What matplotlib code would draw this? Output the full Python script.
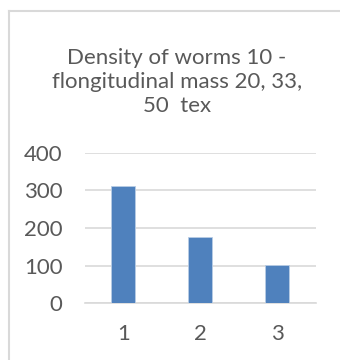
import matplotlib.pyplot as plt
from matplotlib.lines import Line2D

categories = ["1", "2", "3"]
values = [312, 175, 101]
yticks = [0, 100, 200, 300, 400]
title = "Density of worms 10 -\nflongitudinal mass 20, 33,\n50  tex"

text_color = "#595959"
bar_color = "#4f81bd"
grid_color = "#d9d9d9"

plt.rcParams["font.family"] = ["Lato", "DejaVu Sans"]

fig = plt.figure(figsize=(3.4, 3.6), dpi=100)
W, H = 340, 360

# chart frame (runs off the right and bottom edges)
fig.add_artist(Line2D([9 / W, 9 / W], [1 - 11 / H, 0], color=grid_color, lw=1.5))
fig.add_artist(Line2D([9 / W, 1], [1 - 11 / H, 1 - 11 / H], color=grid_color, lw=1.5))

fig.text(177 / W, 1 - 82 / H, title, ha="center", va="center",
         fontsize=16, color=text_color, linespacing=1.22)

ax = fig.add_axes([84.7 / W, 56.7 / H, 231 / W, 150.6 / H])
x = range(1, len(categories) + 1)
ax.bar(x, values, width=0.31, color=bar_color, edgecolor="#b9cde5",
       linewidth=0.6, zorder=3)

ax.set_xlim(0.5, 3.5)
ax.set_ylim(0, 400)
ax.set_yticks(yticks)
ax.set_xticks(list(x))
ax.set_xticklabels(categories)
ax.grid(axis="y", color=grid_color, lw=1.2, zorder=0)
ax.set_axisbelow(True)
for side in ["top", "right", "left"]:
    ax.spines[side].set_visible(False)
ax.spines["bottom"].set_color(grid_color)
ax.spines["bottom"].set_linewidth(1.2)
ax.tick_params(length=0, labelsize=16, colors=text_color)
ax.tick_params(axis="y", pad=16)
ax.tick_params(axis="x", pad=15)

fig.savefig("out.png", dpi=100)
